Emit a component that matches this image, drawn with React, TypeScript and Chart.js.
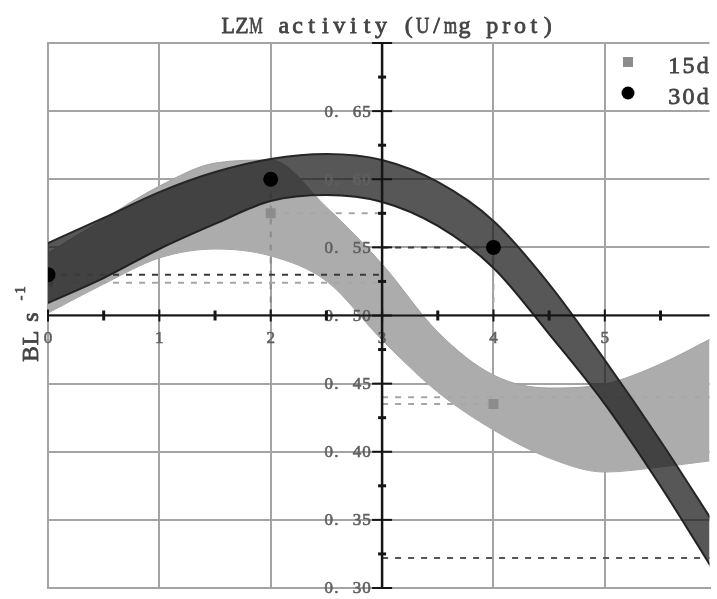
import { useEffect, useRef } from "react";
import { Chart, registerables } from "chart.js";

Chart.register(...registerables);

// Sampling positions (days) of the fitted confidence bands
const xGrid = [0, 0.5, 1, 1.5, 2, 2.5, 3, 3.5, 4, 4.5, 5, 5.5, 6];
// 15 d band (upper / lower edge)
const band15Upper = [0.5459, 0.5708, 0.595, 0.6119, 0.6141, 0.5796, 0.5378, 0.4879, 0.4563, 0.4468, 0.4497, 0.4644, 0.485];
const band15Lower = [0.5018, 0.5231, 0.5422, 0.5488, 0.5437, 0.5253, 0.482, 0.4438, 0.416, 0.3954, 0.3851, 0.3888, 0.3939];
// 30 d band (upper / lower edge)
const band30Upper = [0.5532, 0.5716, 0.5906, 0.6053, 0.6149, 0.6185, 0.6141, 0.598, 0.5694, 0.5231, 0.4673, 0.4079, 0.3448];
const band30Lower = [0.5092, 0.5275, 0.5488, 0.5672, 0.584, 0.5884, 0.5833, 0.5657, 0.5349, 0.4864, 0.435, 0.3749, 0.3095];

// Measured LZM activity
const days = [0, 2, 4];
const lzm15d = [0.525, 0.575, 0.435];
const lzm30d = [0.53, 0.6, 0.55];
// Fitted values read back onto the vertical axis
const fit15Start = 0.524;
const fit15End = 0.44;
const fit30End = 0.322;

// Axis layout values
const xTicks = [0, 1, 2, 3, 4, 5];
const xMinorTicks = [0.5, 1.5, 2.5, 3.5, 4.5, 5.5];
const yTicks = [0.3, 0.35, 0.4, 0.45, 0.5, 0.55, 0.6, 0.65, 0.7];
const yLabelTicks = [0.3, 0.35, 0.4, 0.45, 0.5, 0.55, 0.6, 0.65];
const yMinorTicks = [0.325, 0.375, 0.425, 0.475, 0.525, 0.575, 0.625, 0.675];
const xMin = 0;
const xMax = 5.94;
const yMin = 0.3;
const yMax = 0.7;
const yAxisAtDay = 3;
const xAxisAtValue = 0.5;

const titleText = "LZM activity (U/mg prot)";
const seriesNames = ["15d", "30d"];

const pts = (xs: number[], ys: number[]) => xs.map((x, i) => ({ x, y: ys[i] }));
const seg = (x0: number, y0: number, x1: number, y1: number) => [
  { x: x0, y: y0 },
  { x: x1, y: y1 },
];

const SERIF = "'Liberation Serif', 'DejaVu Serif', serif";

// Draw text as fixed-width cells (half-width serif glyphs); wide glyphs are squeezed
// into their cell, and a thin stroke evens out the hairlines.
function drawCells(
  ctx: CanvasRenderingContext2D,
  text: string,
  x: number,
  y: number,
  cell: number,
  align: "left" | "center" | "right",
  stroke = 0.7
) {
  const total = text.length * cell;
  let start = x;
  if (align === "center") start = x - total / 2;
  if (align === "right") start = x - total;
  ctx.textAlign = "center";
  ctx.strokeStyle = ctx.fillStyle as string;
  ctx.lineWidth = stroke;
  ctx.lineJoin = "round";
  for (let i = 0; i < text.length; i++) {
    const ch = text[i];
    if (ch === " ") continue;
    const cx = ch === "." ? start + i * cell + cell * 0.3 : start + i * cell + cell / 2;
    const w = ctx.measureText(ch).width;
    const limit = cell - 0.5;
    const sx = w > limit ? limit / w : 1;
    ctx.save();
    ctx.translate(cx, y);
    ctx.scale(sx, 1);
    ctx.fillText(ch, 0, 0);
    if (stroke > 0) ctx.strokeText(ch, 0, 0);
    ctx.restore();
  }
}

const fmtY = (v: number) => v.toFixed(2).replace(".", ". ");

const TEXT = "#444444";

const decorations = {
  id: "decorations",
  afterDatasetsDraw(chart: any) {
    const { ctx, chartArea } = chart;
    const xs = chart.scales.x;
    const ys = chart.scales.y;
    const ax = xs.getPixelForValue(yAxisAtDay);
    const ay = ys.getPixelForValue(xAxisAtValue);

    ctx.save();
    ctx.fillStyle = "#606060";
    ctx.textBaseline = "middle";

    // value labels on the central vertical axis
    ctx.font = `17px ${SERIF}`;
    yLabelTicks.forEach((v) => {
      drawCells(ctx, fmtY(v), ax - 11, ys.getPixelForValue(v) + 1, 9.4, "right", 0.6);
    });
    // day labels under the central horizontal axis
    xTicks.forEach((v) => {
      drawCells(ctx, String(v), xs.getPixelForValue(v), ay + 23, 9.4, "center", 0.6);
    });

    // central axes
    ctx.strokeStyle = "#151515";
    ctx.lineWidth = 2;
    ctx.beginPath();
    ctx.moveTo(chartArea.left, ay);
    ctx.lineTo(chartArea.right, ay);
    ctx.stroke();
    ctx.lineWidth = 2.5;
    ctx.beginPath();
    ctx.moveTo(ax, chartArea.top);
    ctx.lineTo(ax, chartArea.bottom);
    ctx.stroke();

    ctx.lineWidth = 2;
    yTicks.forEach((v) => {
      const py = ys.getPixelForValue(v);
      ctx.beginPath();
      ctx.moveTo(ax - 10, py);
      ctx.lineTo(ax + 10, py);
      ctx.stroke();
    });
    ctx.lineWidth = 3;
    yMinorTicks.forEach((v) => {
      const py = ys.getPixelForValue(v);
      ctx.beginPath();
      ctx.moveTo(ax - 4, py);
      ctx.lineTo(ax + 4, py);
      ctx.stroke();
    });
    ctx.lineWidth = 2;
    xTicks.forEach((v) => {
      const px = xs.getPixelForValue(v);
      ctx.beginPath();
      ctx.moveTo(px, ay - 6);
      ctx.lineTo(px, ay + 6);
      ctx.stroke();
    });
    ctx.lineWidth = 3;
    xMinorTicks.forEach((v) => {
      const px = xs.getPixelForValue(v);
      ctx.beginPath();
      ctx.moveTo(px, ay - 5);
      ctx.lineTo(px, ay + 5);
      ctx.stroke();
    });

    // title
    ctx.fillStyle = TEXT;
    ctx.font = `24px ${SERIF}`;
    ctx.textBaseline = "alphabetic";
    drawCells(ctx, titleText, 388, 33, 13.9, "center", 0.8);

    // legend
    ctx.fillStyle = "#8c8c8c";
    ctx.fillRect(623, 57, 10, 10);
    ctx.fillStyle = "#000";
    ctx.beginPath();
    ctx.arc(628, 93, 6.5, 0, Math.PI * 2);
    ctx.fill();
    ctx.fillStyle = TEXT;
    ctx.font = `24px ${SERIF}`;
    ctx.textBaseline = "alphabetic";
    drawCells(ctx, seriesNames[0], 667, 73, 14.3, "left", 0.8);
    drawCells(ctx, seriesNames[1], 667, 104, 14.3, "left", 0.8);

    // vertical axis title: BL s^-1
    ctx.save();
    ctx.translate(38, 362);
    ctx.rotate(-Math.PI / 2);
    ctx.textBaseline = "alphabetic";
    ctx.font = `24px ${SERIF}`;
    drawCells(ctx, "BL", 0, 0, 16, "left", 0.8);
    drawCells(ctx, "s", 37, 0, 16, "left", 0.8);
    ctx.font = `15px ${SERIF}`;
    drawCells(ctx, "-1", 60, -13, 8, "left", 0.6);
    ctx.restore();

    ctx.restore();
  },
};

const bandLine = {
  showLine: true,
  pointRadius: 0,
  cubicInterpolationMode: "monotone" as const,
};

const dash = (data: { x: number; y: number }[], color: string, order: number) => ({
  data,
  showLine: true,
  fill: false,
  pointRadius: 0,
  borderColor: color,
  borderWidth: 2,
  borderDash: [6, 7],
  order,
});

export default function App() {
  const canvasRef = useRef<HTMLCanvasElement | null>(null);

  useEffect(() => {
    const canvas = canvasRef.current;
    if (!canvas) return;
    const light = "#a6a6a6";
    const darkDash = "#3a3a3a";
    const chart = new Chart(canvas, {
      type: "line",
      data: {
        datasets: [
          {
            ...bandLine,
            label: "15d band",
            data: pts(xGrid, band15Upper),
            fill: "+1",
            backgroundColor: "#acacac",
            borderColor: "#a2a2a2",
            borderWidth: 1,
            order: 10,
          },
          {
            ...bandLine,
            label: "15d band low",
            data: pts(xGrid, band15Lower),
            fill: false,
            borderColor: "#a2a2a2",
            borderWidth: 1,
            order: 10,
          },
          {
            ...bandLine,
            label: "30d band",
            data: pts(xGrid, band30Upper),
            fill: "+1",
            backgroundColor: "rgba(28,28,28,0.74)",
            borderColor: "#262626",
            borderWidth: 2,
            order: 6,
          },
          {
            ...bandLine,
            label: "30d band low",
            data: pts(xGrid, band30Lower),
            fill: false,
            borderColor: "#262626",
            borderWidth: 2,
            order: 6,
          },
          // 15 d guide lines
          dash(seg(0, fit15Start, yAxisAtDay, fit15Start), light, 9),
          dash(seg(days[1], lzm15d[1], yAxisAtDay, lzm15d[1]), light, 9),
          dash(seg(yAxisAtDay, lzm15d[2], days[2], lzm15d[2]), light, 9),
          dash(seg(yAxisAtDay, fit15End, 6, fit15End), light, 9),
          dash(seg(days[1], xAxisAtValue, days[1], lzm30d[1]), "#8a8a8a", 9),
          dash(seg(days[2], xAxisAtValue, days[2], lzm30d[2]), light, 9),
          {
            label: seriesNames[0],
            data: pts(days, lzm15d),
            showLine: false,
            pointStyle: "rect",
            pointRadius: 7,
            pointBackgroundColor: "#8c8c8c",
            pointBorderWidth: 0,
            order: 8,
            clip: 0,
          },
          // 30 d guide lines
          dash(seg(days[0], lzm30d[0], yAxisAtDay, lzm30d[0]), darkDash, 5),
          dash(seg(yAxisAtDay, lzm30d[2], days[2], lzm30d[2]), darkDash, 5),
          dash(seg(yAxisAtDay, fit30End, 6, fit30End), "#555555", 5),
          {
            label: seriesNames[1],
            data: pts(days, lzm30d),
            showLine: false,
            pointStyle: "circle",
            pointRadius: 7.5,
            pointBackgroundColor: "#000",
            pointBorderWidth: 0,
            order: 1,
            clip: 0,
          },
        ] as any,
      },
      options: {
        animation: false,
        responsive: false,
        events: [],
        layout: { padding: { left: 48, top: 43, right: 0, bottom: 11 } },
        plugins: {
          legend: { display: false },
          title: { display: false },
          tooltip: { enabled: false },
        },
        scales: {
          x: {
            type: "linear",
            min: xMin,
            max: xMax,
            ticks: { display: false },
            afterBuildTicks: (s: any) => {
              s.ticks = xTicks.map((value) => ({ value }));
            },
            grid: { color: "#a4a4a4", lineWidth: 2, drawTicks: false },
            border: { color: "#a4a4a4", width: 2 },
          },
          y: {
            type: "linear",
            min: yMin,
            max: yMax,
            ticks: { display: false },
            afterBuildTicks: (s: any) => {
              s.ticks = yTicks.map((value) => ({ value }));
            },
            grid: { color: "#a4a4a4", lineWidth: 2, drawTicks: false },
            border: { color: "#a4a4a4", width: 2 },
          },
        },
      },
      plugins: [decorations],
    });
    return () => chart.destroy();
  }, []);

  return (
    <div style={{ position: "fixed", left: 0, top: 0, width: 717, height: 599, background: "#fff" }}>
      <canvas ref={canvasRef} width={717} height={599} style={{ display: "block" }} />
    </div>
  );
}
